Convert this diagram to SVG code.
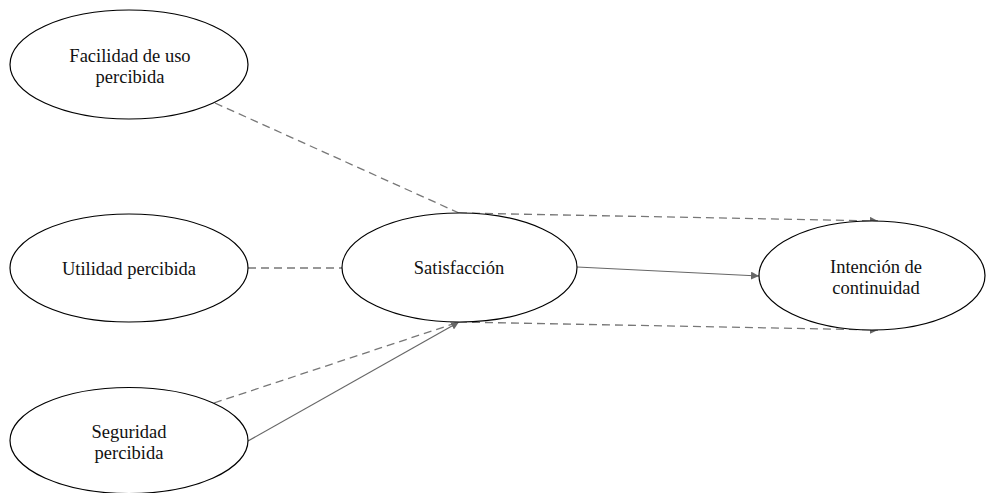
<svg xmlns="http://www.w3.org/2000/svg" width="987" height="493" viewBox="0 0 987 493">
  <defs>
    <marker id="arrow" viewBox="0 0 10 10" refX="10" refY="5" markerWidth="8" markerHeight="8" markerUnits="userSpaceOnUse" orient="auto">
      <path d="M0,0 L10,5 L0,10 z" fill="#666"/>
    </marker>
  </defs>
  <style>
    .node ellipse { fill: #fff; stroke: #000; stroke-width: 1.2; }
    .node text { font-family: "Liberation Serif", "Times New Roman", serif; font-size: 18.5px; fill: #111; text-anchor: middle; }
    .dash { stroke: #777; stroke-width: 1.3; stroke-dasharray: 8 5; fill: none; }
    .solid { stroke: #666; stroke-width: 1.2; fill: none; }
  </style>
  <rect width="987" height="493" fill="#fff"/>

  <!-- connectors -->
  <g id="connectors">
    <line class="dash" x1="215" y1="103" x2="459" y2="213"/>
    <line class="dash" x1="459" y1="213" x2="878" y2="221" marker-end="url(#arrow)"/>
    <line class="dash" x1="248" y1="268" x2="342" y2="268"/>
    <line class="solid" x1="577" y1="267" x2="759" y2="276" marker-end="url(#arrow)"/>
    <line class="dash" x1="459" y1="322" x2="878" y2="330" marker-end="url(#arrow)"/>
    <line class="dash" x1="214" y1="403" x2="459" y2="322"/>
    <line class="solid" x1="248" y1="441" x2="459" y2="322" marker-end="url(#arrow)"/>
  </g>

  <g id="facilidad" class="node">
    <ellipse cx="129" cy="64.5" rx="119" ry="54.5"/>
    <text x="130" y="62">Facilidad de uso</text>
    <text x="130" y="83">percibida</text>
  </g>

  <g id="utilidad" class="node">
    <ellipse cx="129" cy="268" rx="119" ry="54"/>
    <text x="129" y="275">Utilidad percibida</text>
  </g>

  <g id="satisfaccion" class="node">
    <ellipse cx="459.5" cy="267.5" rx="117.5" ry="54.5"/>
    <text x="459" y="274">Satisfacción</text>
  </g>

  <g id="intencion" class="node">
    <ellipse cx="872" cy="275.5" rx="113" ry="54.5"/>
    <text x="876" y="273">Intención de</text>
    <text x="876" y="294">continuidad</text>
  </g>

  <g id="seguridad" class="node">
    <ellipse cx="129" cy="440.5" rx="119" ry="53"/>
    <text x="129" y="438">Seguridad</text>
    <text x="129" y="459">percibida</text>
  </g>
</svg>
